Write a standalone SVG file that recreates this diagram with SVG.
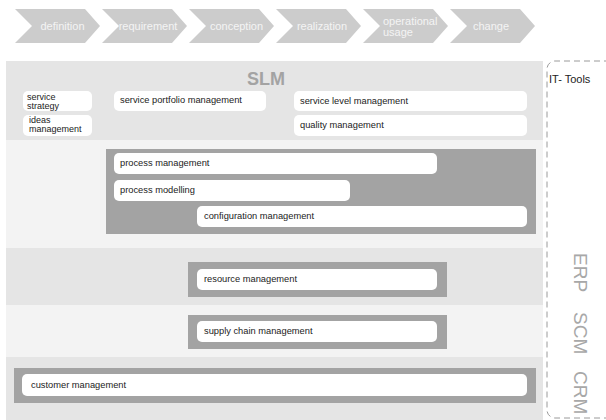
<svg xmlns="http://www.w3.org/2000/svg" width="606" height="420" viewBox="0 0 606 420">
<style>
.chev{fill:#cccccc}
.ct{font-family:"Liberation Sans",Arial,sans-serif;font-size:11px;fill:#f4f4f4;text-anchor:middle}
.bandA{fill:#e5e5e5}
.bandB{fill:#f3f3f3}
.dark{fill:#a3a3a3}
.box{fill:#ffffff}
.t{font-family:"Liberation Sans",Arial,sans-serif;font-size:9.3px;fill:#222222}
.t2{font-family:"Liberation Sans",Arial,sans-serif;font-size:9px;fill:#222222}
.side{font-family:"Liberation Sans",Arial,sans-serif;font-size:19px;fill:#a8a8a8}
</style>
<rect width="606" height="420" fill="#ffffff"/>
<g id="phases">
<g id="ph-definition"><polygon class="chev" points="15,9 85,9 100,26 85,43 15,43 32,26"/><text class="ct" x="62.5" y="30">definition</text></g>
<g id="ph-requirement"><polygon class="chev" points="102,9 172,9 187,26 172,43 102,43 119,26"/><text class="ct" x="148" y="30">requirement</text></g>
<g id="ph-conception"><polygon class="chev" points="189,9 259,9 274,26 259,43 189,43 206,26"/><text class="ct" x="236.5" y="30">conception</text></g>
<g id="ph-realization"><polygon class="chev" points="276,9 346,9 361,26 346,43 276,43 293,26"/><text class="ct" x="322" y="30">realization</text></g>
<g id="ph-operational"><polygon class="chev" points="363,9 433,9 448,26 433,43 363,43 380,26"/><text class="ct" style="text-anchor:start" x="383" y="25">operational</text><text class="ct" style="text-anchor:start" x="383" y="36">usage</text></g>
<g id="ph-change"><polygon class="chev" points="450,9 520,9 535,26 520,43 450,43 467,26"/><text class="ct" x="491" y="30">change</text></g>
</g>
<g id="bands">
<rect class="bandA" x="6" y="61" width="537" height="79"/>
<rect class="bandB" x="6" y="140" width="537" height="108"/>
<rect class="bandA" x="6" y="248" width="537" height="57"/>
<rect class="bandB" x="6" y="305" width="537" height="52"/>
<rect class="bandA" x="6" y="357" width="537" height="63"/>
</g>
<g id="slm">
<text x="266" y="85" font-family="Liberation Sans,Arial,sans-serif" font-size="18" font-weight="bold" fill="#a3a3a3" text-anchor="middle">SLM</text>
<g id="n-service-strategy"><rect class="box" x="23" y="91" width="69" height="20" rx="5"/><text class="t2" x="27" y="99.5">service</text><text class="t2" x="27" y="108.5">strategy</text></g>
<g id="n-ideas"><rect class="box" x="23" y="115" width="69" height="21" rx="5"/><text class="t2" x="29" y="122.5">ideas</text><text class="t2" x="29" y="131.5">management</text></g>
<g id="n-portfolio"><rect class="box" x="114" y="91" width="152" height="20" rx="5"/><text class="t" x="120" y="103">service portfolio management</text></g>
<g id="n-service-level"><rect class="box" x="294" y="91" width="233" height="20" rx="5"/><text class="t" x="300" y="104">service level management</text></g>
<g id="n-quality"><rect class="box" x="294" y="115" width="233" height="21" rx="5"/><text class="t" x="300" y="128">quality management</text></g>
</g>
<g id="process">
<rect class="dark" x="106" y="149" width="430" height="85"/>
<g id="n-process-mgmt"><rect class="box" x="114" y="153" width="323" height="21" rx="5"/><text class="t" x="120" y="166">process management</text></g>
<g id="n-process-model"><rect class="box" x="114" y="180" width="236" height="21" rx="5"/><text class="t" x="120" y="192.5">process modelling</text></g>
<g id="n-config"><rect class="box" x="197" y="206" width="330" height="21" rx="5"/><text class="t" x="204" y="218.5">configuration management</text></g>
</g>
<g id="resource">
<rect class="dark" x="188" y="262" width="259" height="35"/>
<g id="n-resource"><rect class="box" x="197" y="269" width="240" height="21" rx="5"/><text class="t" x="204" y="282">resource management</text></g>
</g>
<g id="supply">
<rect class="dark" x="188" y="315" width="259" height="34"/>
<g id="n-supply"><rect class="box" x="197" y="321" width="240" height="21" rx="5"/><text class="t" x="204" y="334">supply chain management</text></g>
</g>
<g id="customer">
<rect class="dark" x="14" y="368" width="522" height="35"/>
<g id="n-customer"><rect class="box" x="22" y="374" width="505" height="22" rx="5"/><text class="t" x="31" y="387.5">customer management</text></g>
</g>
<g id="connectors"></g>
<g id="it-tools">
<path d="M610,61 H555 A8,8 0 0 0 547,69 V410 A8,8 0 0 0 555,418 H610" fill="none" stroke="#9a9a9a" stroke-width="1" stroke-dasharray="6,4"/>
<text x="549" y="82.5" font-family="Liberation Sans,Arial,sans-serif" font-size="11" fill="#222222">IT- Tools</text>
<text class="side" transform="translate(573.5,253) rotate(90)">ERP</text>
<text class="side" transform="translate(573.5,312) rotate(90)">SCM</text>
<text class="side" transform="translate(573.5,371) rotate(90)">CRM</text>
</g>
</svg>
